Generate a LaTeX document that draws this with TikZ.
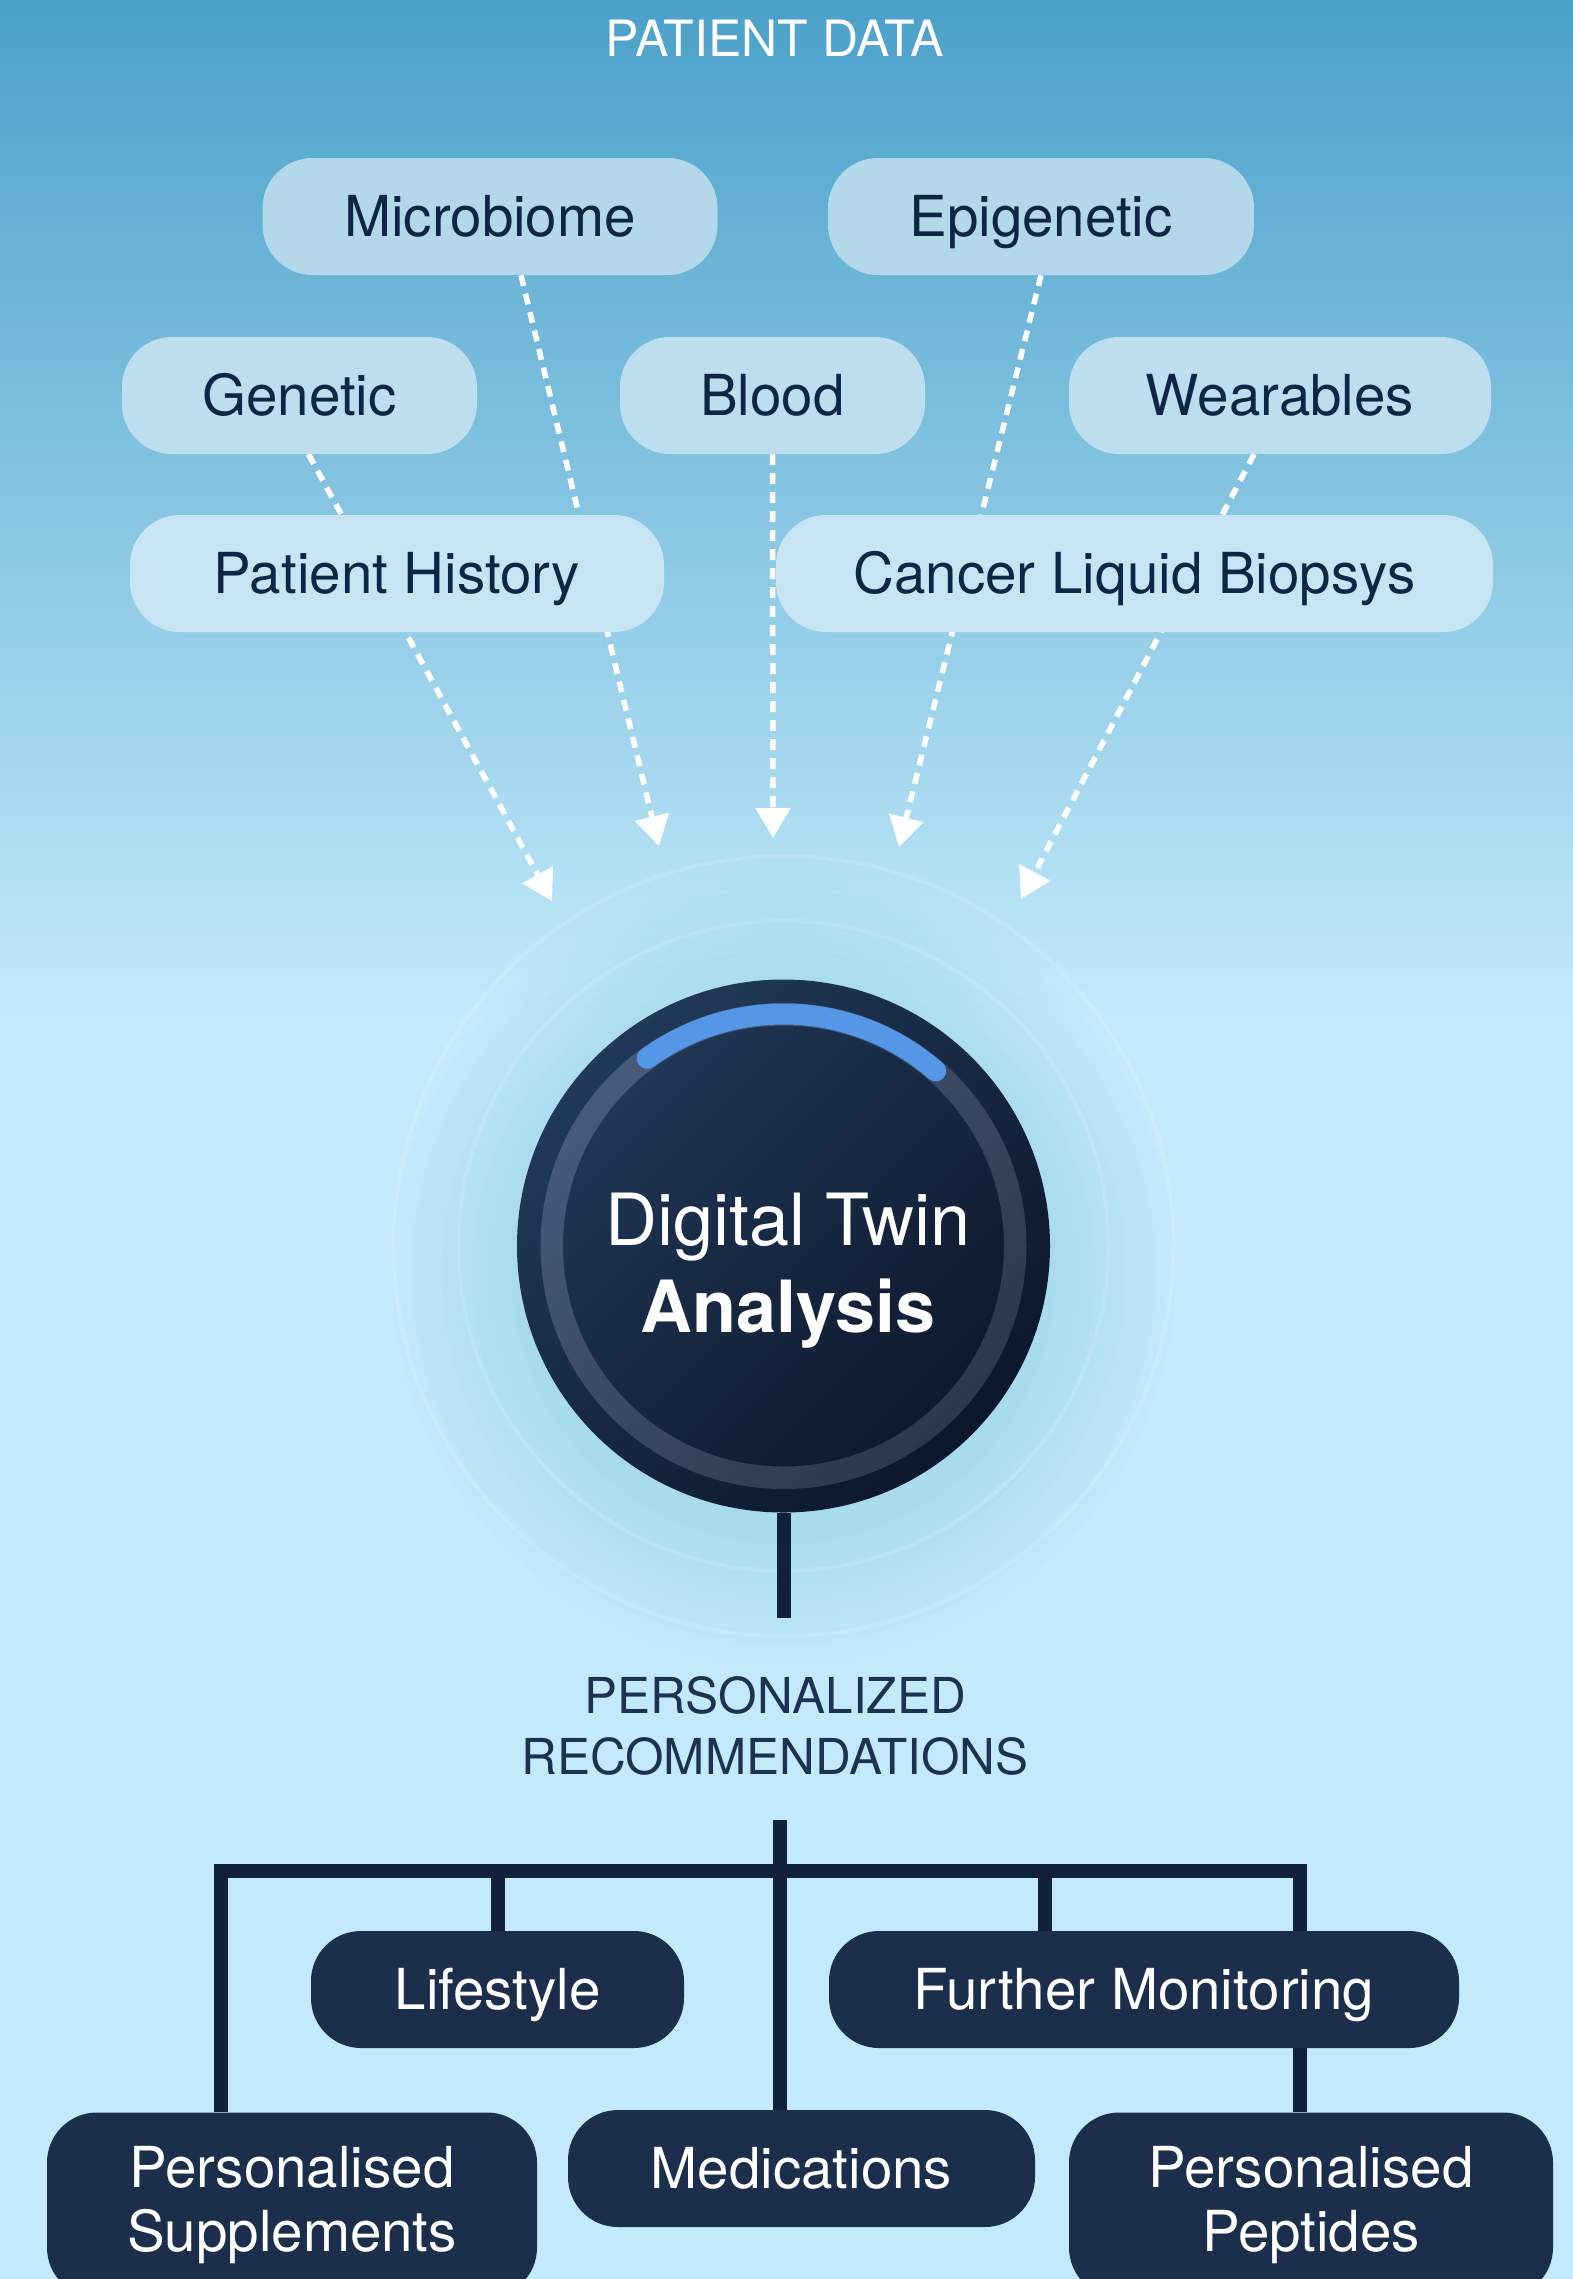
\documentclass[tikz,border=0pt]{standalone}
\usepackage{fontspec}
\setmainfont{TeX Gyre Heros}
\usetikzlibrary{arrows.meta,calc}
\pgfdeclarelayer{back}
\pgfdeclarelayer{mid}
\pgfsetlayers{back,mid,main}
\definecolor{bgTop}{HTML}{4BA1CA}
\definecolor{bgLight}{HTML}{C3EAFB}
\definecolor{navy}{HTML}{1B2F4C}
\definecolor{ink}{HTML}{0E2546}
\definecolor{treeink}{HTML}{12213A}
\definecolor{recink}{HTML}{1D3252}
\definecolor{discA}{HTML}{213959}
\definecolor{discB}{HTML}{0C172A}
\definecolor{ringA}{HTML}{475A7B}
\definecolor{ringB}{HTML}{2C384B}
\definecolor{arcblue}{HTML}{5497E6}
\definecolor{halo}{HTML}{5FA8D0}
\colorlet{bgA}{bgLight!21!bgTop}
\colorlet{bgB}{bgLight!39!bgTop}
\colorlet{bgC}{bgLight!56!bgTop}
\colorlet{rowA}{white!50!bgA}
\colorlet{rowB}{white!50!bgB}
\colorlet{rowC}{white!50!bgC}
\tikzset{
  srcbox/.style={rectangle, rounded corners=50pt, minimum height=117pt, inner sep=0pt,
    text height=40.5pt, text depth=0pt, font=\fontsize{56.5}{66}\selectfont, text=ink},
  recbox/.style={rectangle, rounded corners=50pt, fill=navy, inner sep=0pt, text=white,
    font=\fontsize{56.5}{64}\selectfont, align=center},
  onebox/.style={recbox, minimum height=117pt, text height=40.5pt, text depth=0pt},
  twobox/.style={recbox, minimum height=185pt},
  feed/.style={draw=white, line width=5.5pt, dash pattern=on 11pt off 8pt,
    -{Triangle[width=34pt,length=30pt]}},
  treeline/.style={draw=treeink, line width=14pt, line join=miter},
}
\begin{document}
\begin{tikzpicture}[x=1pt,y=-1pt]
\useasboundingbox (0,0) rectangle (1573,2279);

% ---- source boxes
\node[srcbox, fill=rowA, minimum width=455pt] (mic) at (490,216.5) {Microbiome};
\node[srcbox, fill=rowA, minimum width=426pt] (epi) at (1041,216.5) {Epigenetic};
\node[srcbox, fill=rowB, minimum width=355pt] (gen) at (299.5,395.5) {Genetic};
\node[srcbox, fill=rowB, minimum width=305pt] (blo) at (772.5,395.5) {Blood};
\node[srcbox, fill=rowB, minimum width=422pt] (wea) at (1280,395.5) {Wearables};
\node[srcbox, fill=rowC, minimum width=534pt] (his) at (397,573.5) {Patient History};
\node[srcbox, fill=rowC, minimum width=717pt] (can) at (1134.5,573.5) {Cancer Liquid Biopsys};

\node[font=\fontsize{50}{58}\selectfont, text=white, inner sep=0pt,
  text height=36pt, text depth=0pt] (title) at (775,38.5) {PATIENT DATA};

% ---- central disc
\node[circle, minimum size=533pt, inner sep=0pt, top color=discA, bottom color=discB,
  shading angle=45] (dt) at (783.5,1246) {};
\shade[top color=ringA, bottom color=ringB, shading angle=45, even odd rule]
  (dt.center) circle[radius=243pt] (dt.center) circle[radius=220.5pt];
\draw[arcblue, line width=21pt, line cap=round]
  ($(dt.center)+(126:232pt)$) arc[start angle=126, end angle=49, radius=232pt];
\node[text=white, align=center, inner sep=0pt, font=\fontsize{72}{87}\selectfont]
  (dtt) at (788,1271) {Digital Twin\\\textbf{Analysis}};

% ---- recommendations
\node[text=recink, align=center, inner sep=0pt, font=\fontsize{49.5}{61}\selectfont]
  (rectitle) at (775,1726) {PERSONALIZED\\RECOMMENDATIONS};

\node[onebox, minimum width=373pt] (life) at (497.5,1989.5) {Lifestyle};
\node[onebox, minimum width=630pt] (fmon) at (1144,1989.5) {Further Monitoring};
\node[twobox, minimum width=490pt] (supp) at (292,2205) {Personalised\\Supplements};
\node[onebox, minimum width=467pt] (med) at (801.5,2168.5) {Medications};
\node[twobox, minimum width=484pt] (pep) at (1311,2205) {Personalised\\Peptides};

% ---- coordinates
\coordinate (micEnd) at (659,846);
\coordinate (epiEnd) at (899,847);
\coordinate (genEnd) at (552,901);
\coordinate (bloEnd) at (773,838);
\coordinate (weaEnd) at (1021,899);
\coordinate (stemEnd) at (783.5,1618);
\coordinate (recBot) at (780,1820);
\coordinate (barL) at (221,1871);
\coordinate (barR) at (1300,1871);
\coordinate (fmTop) at (1045,1932);

% ---- background layer
\begin{pgfonlayer}{back}
  \fill[bgLight] (0,0) rectangle (1573,2279);
  \shade[top color=bgTop, bottom color=bgLight] (0,0) rectangle (1573,1021);
  \foreach \r in {272,282,...,392}
    \fill[halo, opacity=0.016] (783.5,1272) circle[radius=\r pt];
  \draw[white, opacity=0.13, line width=4pt] (dt.center) circle[radius=390pt];
  \draw[white, opacity=0.13, line width=4pt] (dt.center) circle[radius=325pt];
\end{pgfonlayer}

% ---- connectors
\begin{pgfonlayer}{mid}
  \draw[feed] ([xshift=9pt]gen.south) -- (genEnd);
  \draw[feed] ([xshift=31pt]mic.south) -- (micEnd);
  \draw[feed] (blo.south) -- (bloEnd);
  \draw[feed] (epi.south) -- (epiEnd);
  \draw[feed] ([xshift=-26pt]wea.south) -- (weaEnd);

  \draw[treeline] (dt.south) -- (stemEnd);
  \draw[treeline] (recBot) -- (med.north -| recBot);
  \draw[treeline] (supp.north -| barL) -- (barL) -- (barR) -- (pep.north -| barR);
  \draw[treeline] (life.north) -- (life.north |- barL);
  \draw[treeline] (fmTop) -- (fmTop |- barL);
\end{pgfonlayer}
\end{tikzpicture}
\end{document}
